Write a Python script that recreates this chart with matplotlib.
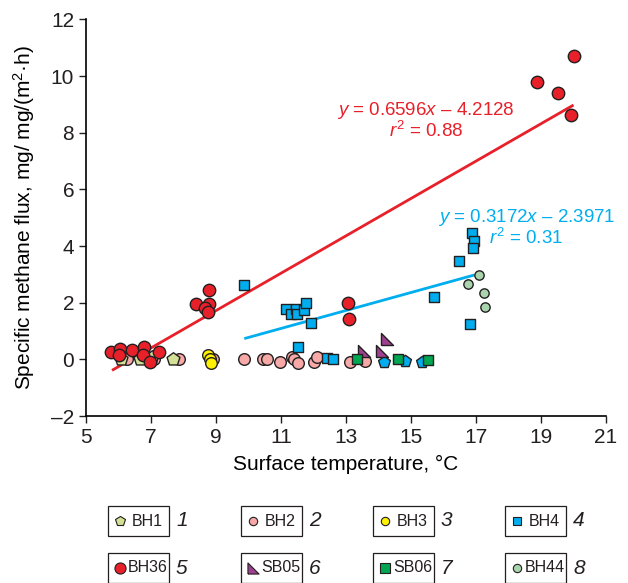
import matplotlib.pyplot as plt
from matplotlib.patches import Rectangle
from matplotlib.lines import Line2D
import numpy as np

plt.rcParams['font.family'] = ['Liberation Sans', 'DejaVu Sans']
plt.rcParams['mathtext.fontset'] = 'custom'
plt.rcParams['mathtext.rm'] = 'Liberation Sans'
plt.rcParams['mathtext.it'] = 'Liberation Sans:italic'

# Точки по скважинам: температура поверхности, удельный поток метана
bh1_x = [6.08, 6.66, 7.03, 7.68]
bh1_y = [0.0, 0.0, 0.08, 0.0]

bh2_x = [6.25, 7.1, 7.86, 8.92, 9.87, 10.46, 10.56, 10.97, 11.33, 11.4, 11.51, 12.02, 12.12, 13.11, 13.59]
bh2_y = [0.0, 0.0, 0.0, 0.0, 0.0, 0.0, 0.0, -0.08, 0.09, 0.0, -0.14, -0.08, 0.07, -0.08, -0.05]

bh3_x = [8.76, 8.8, 8.84]
bh3_y = [0.16, 0.0, -0.13]

bh4_x = [9.87, 11.15, 11.3, 11.46, 11.49, 11.71, 11.77, 11.92, 11.51, 12.41, 12.59,
         16.88, 16.95, 16.9, 16.49, 15.72, 16.8]
bh4_y = [2.63, 1.78, 1.59, 1.78, 1.59, 1.74, 2.0, 1.27, 0.42, 0.04, 0.0,
         4.47, 4.19, 3.94, 3.48, 2.19, 1.25]
# BH4 точки, отрисованные пятиугольниками
bh4p_x = [14.16, 14.82, 15.34]
bh4p_y = [-0.08, -0.06, -0.08]

bh36_x = [5.78, 6.03, 6.41, 6.78, 6.0, 6.75, 6.97, 7.26,
          8.77, 8.39, 8.79, 8.66, 8.75, 13.06, 13.08,
          20.0, 18.88, 19.53, 19.92]
bh36_y = [0.25, 0.38, 0.33, 0.42, 0.15, 0.15, -0.1, 0.27,
          2.45, 1.95, 1.95, 1.8, 1.68, 1.98, 1.43,
          10.72, 9.81, 9.39, 8.63]

sb05_x = [13.55, 14.12, 14.27]
sb05_y = [0.28, 0.28, 0.72]

sb06_x = [13.34, 14.59, 15.52]
sb06_y = [0.0, 0.0, -0.02]

bh44_x = [17.1, 16.74, 17.24, 17.27]
bh44_y = [2.99, 2.65, 2.33, 1.86]

# Линии регрессии: наклон, сдвиг, диапазон x
red_fit = (0.6596, -4.2128, 5.8, 20.0)
blue_fit = (0.3172, -2.3971, 9.87, 16.95)

legend_names = ['BH1', 'BH2', 'BH3', 'BH4', 'BH36', 'SB05', 'SB06', 'BH44']

RED = '#e8202a'
BLUE = '#00aeef'
EDGE = '#231f20'

# Прямоугольный треугольник ◣
tri = [(-1, -1), (-1, 1), (1, -1), (-1, -1)]

fig = plt.figure(figsize=(6.28, 5.83), dpi=100)
ax = fig.add_axes([0.137, 0.2864, 0.828, 0.6802])

for a, b, x0, x1, c in [(*red_fit, RED), (*blue_fit, BLUE)]:
    xs = np.array([x0, x1])
    ax.plot(xs, a * xs + b, color=c, lw=2.0, zorder=2, solid_capstyle='butt')

kw = dict(edgecolors=EDGE, linewidths=1.0, zorder=3)
ax.scatter(bh2_x, bh2_y, marker='o', s=70, c='#f7a9a8', **kw)
ax.scatter(bh1_x, bh1_y, marker='p', s=95, c='#d3e095', **kw)
ax.scatter(bh3_x, bh3_y, marker='o', s=70, c='#fff200', **kw)
ax.scatter(bh36_x, bh36_y, marker='o', s=80, c=RED, **kw)
ax.scatter(bh4_x, bh4_y, marker='s', s=50, c=BLUE, **kw)
ax.scatter(bh4p_x, bh4p_y, marker='p', s=80, c=BLUE, **kw)
ax.scatter(sb05_x, sb05_y, marker=tri, s=75, c='#9e3f8f', **kw)
ax.scatter(sb06_x, sb06_y, marker='s', s=60, c='#00a651', **kw)
ax.scatter(bh44_x, bh44_y, marker='o', s=45, c='#a9d4ae', **kw)

ax.text(15.47, 8.8, r'$y$ = 0.6596$x$ – 4.2128',
        color=RED, fontsize=13.5, ha='center', va='center')
ax.text(15.47, 8.08, r'$r^{2}$ = 0.88', color=RED, fontsize=13.5,
        ha='center', va='center')
ax.text(18.55, 5.0, r'$y$ = 0.3172$x$ – 2.3971',
        color=BLUE, fontsize=13.5, ha='center', va='center')
ax.text(18.55, 4.28, r'$r^{2}$ = 0.31', color=BLUE, fontsize=13.5,
        ha='center', va='center')

ax.set_xlim(5, 21)
ax.set_ylim(-2, 12)
ax.set_xticks(range(5, 22, 2))
ax.set_yticks(range(-2, 13, 2))
ax.set_yticklabels(['–2'] + [str(v) for v in range(0, 13, 2)])
ax.spines['top'].set_visible(False)
ax.spines['right'].set_visible(False)
for s in ['left', 'bottom']:
    ax.spines[s].set_linewidth(1.2)
ax.tick_params(direction='out', length=5, width=1.0, labelsize=15, colors='#231f20')
ax.set_xlabel('Surface temperature, °C', fontsize=15, labelpad=6)
ax.set_ylabel(r'Specific methane flux, mg/ mg/(m$^2$·h)', fontsize=15, labelpad=10)

# Легенда в рамках под графиком
box_left = [108, 241, 373, 505]
row_mid = [521, 568]
W, H = 628, 583
styles = [('p', '#d3e095', 7), ('o', '#f7a9a8', 6), ('o', '#fff200', 6), ('s', BLUE, 6),
          ('o', RED, 8), (tri, '#9e3f8f', 8), ('s', '#00a651', 7), ('o', '#a9d4ae', 6)]
for i, name in enumerate(legend_names):
    col, row = i % 4, i // 4
    x0 = box_left[col]
    yc = row_mid[row]
    fig.add_artist(Rectangle((x0 / W, 1 - (yc + 15) / H), 61 / W, 30 / H,
                             transform=fig.transFigure, fill=False,
                             edgecolor=EDGE, lw=0.9))
    m, c, ms = styles[i]
    fig.add_artist(Line2D([(x0 + 12) / W], [1 - yc / H], transform=fig.transFigure,
                          marker=m, color=c, markeredgecolor=EDGE,
                          markeredgewidth=0.8, markersize=ms, ls='none'))
    fig.text((x0 + 20) / W if len(name) > 3 else (x0 + 24) / W, 1 - yc / H, name,
             fontsize=11.5, va='center', ha='left', color=EDGE)
    fig.text((x0 + 68) / W, 1 - yc / H, str(i + 1), fontsize=15, style='italic',
             va='center', ha='left', color=EDGE)

fig.savefig('out.png', dpi=100)
